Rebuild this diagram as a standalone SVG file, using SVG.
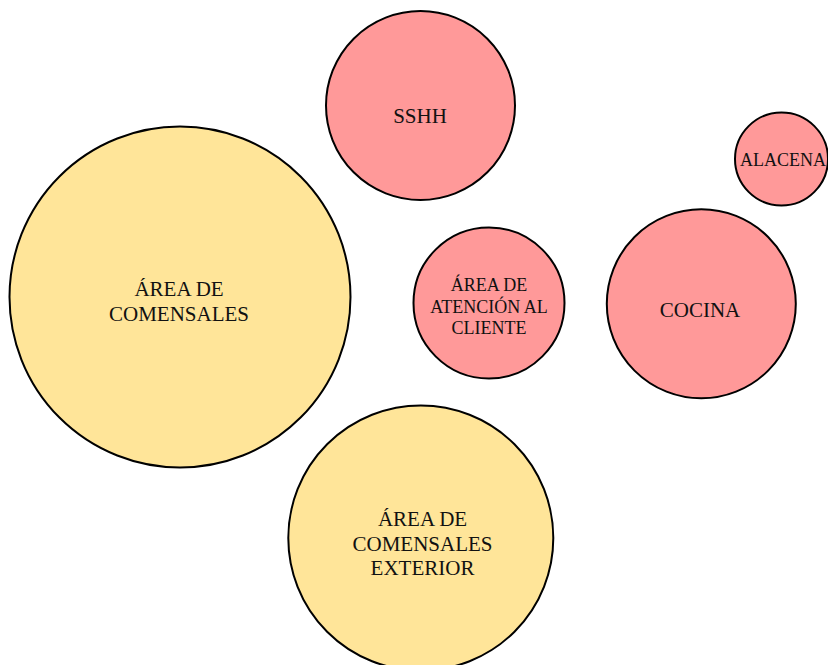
<svg xmlns="http://www.w3.org/2000/svg" width="828" height="665" viewBox="0 0 828 665">
<style>
.pink{fill:#FF9999;stroke:#000;stroke-width:2}
.yel{fill:#FFE599;stroke:#000;stroke-width:2}
text{font-family:"Liberation Serif","Times New Roman",serif;fill:#111;text-anchor:middle}
.t21{font-size:21px}
.t18{font-size:18px}
</style>
<rect width="828" height="665" fill="#fff"/>
<g id="connectors"></g>
<g id="sshh">
<circle class="pink" cx="420.5" cy="105.5" r="94.5"/>
<text class="t21" x="420" y="123">SSHH</text>
</g>
<g id="alacena">
<circle class="pink" cx="781.5" cy="159" r="46.5"/>
<text class="t18" x="783" y="166">ALACENA</text>
</g>
<g id="comensales">
<circle class="yel" cx="180" cy="297" r="170.5"/>
<text class="t21" x="179" y="296">ÁREA DE</text>
<text class="t21" x="179" y="321">COMENSALES</text>
</g>
<g id="atencion">
<circle class="pink" cx="489" cy="303" r="75.5"/>
<text class="t18" x="489" y="291">ÁREA DE</text>
<text class="t18" x="489" y="313">ATENCIÓN AL</text>
<text class="t18" x="489" y="334">CLIENTE</text>
</g>
<g id="cocina">
<circle class="pink" cx="701.3" cy="303.8" r="94.5"/>
<text class="t21" x="700" y="317">COCINA</text>
</g>
<g id="exterior">
<circle class="yel" cx="420.8" cy="538" r="132.5"/>
<text class="t21" x="422.5" y="526">ÁREA DE</text>
<text class="t21" x="422.5" y="551">COMENSALES</text>
<text class="t21" x="422.5" y="575">EXTERIOR</text>
</g>
</svg>
